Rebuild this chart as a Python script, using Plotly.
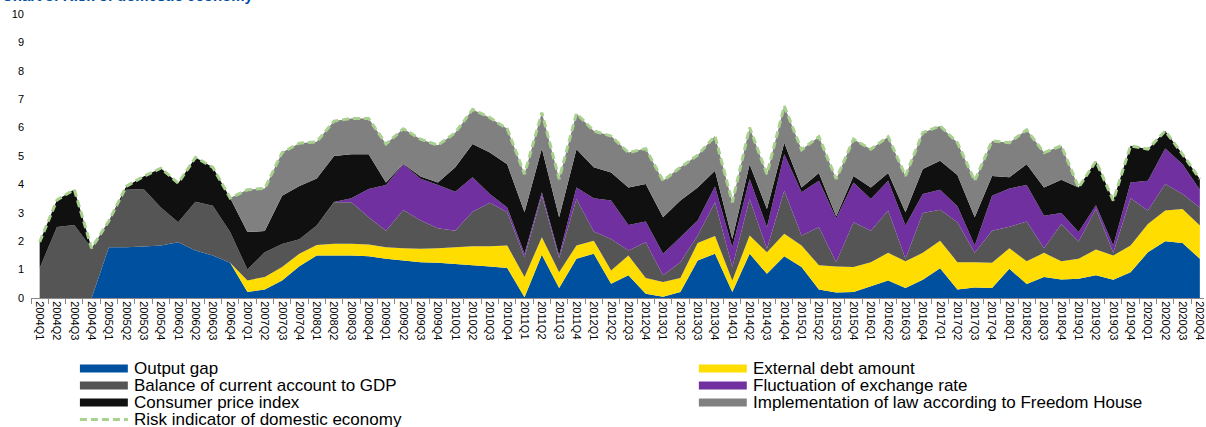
import plotly.graph_objects as go

years = list(range(2004, 2021))
quarters = [f"{y}Q{q}" for y in years for q in range(1, 5)]

output_gap = [0, 0, 0, 0, 1.79, 1.79, 1.81, 1.85, 1.96, 1.67, 1.5, 1.24,
              0.21, 0.3, 0.62, 1.12, 1.5, 1.5, 1.5, 1.47, 1.38, 1.32, 1.26, 1.24,
              1.2, 1.15, 1.11, 1.06, 0.03, 1.52, 0.35, 1.38, 1.56, 0.5, 0.8, 0.15,
              0.04, 0.21, 1.32, 1.56, 0.21, 1.56, 0.85, 1.47, 1.09, 0.3, 0.19, 0.21,
              0.41, 0.62, 0.35, 0.64, 1.05, 0.3, 0.37, 0.35, 1.03, 0.49, 0.74, 0.65,
              0.68, 0.8, 0.64, 0.91, 1.61, 2.0, 1.94, 1.38]
external_debt = [0, 0, 0, 0, 0, 0, 0, 0, 0, 0, 0, 0,
                 0.41, 0.44, 0.47, 0.44, 0.37, 0.41, 0.41, 0.41, 0.41, 0.43, 0.47, 0.51,
                 0.59, 0.67, 0.71, 0.79, 0.71, 0.62, 0.56, 0.47, 0.46, 0.47, 0.7, 0.55,
                 0.52, 0.49, 0.62, 0.62, 0.41, 0.64, 0.76, 0.79, 0.76, 0.85, 0.92, 0.88,
                 0.85, 0.97, 0.94, 0.95, 0.97, 0.96, 0.89, 0.89, 0.72, 0.8, 0.85, 0.64,
                 0.7, 0.91, 0.86, 0.94, 1.0, 1.08, 1.19, 1.17]
current_account = [1.05, 2.5, 2.57, 1.75, 0.93, 2.02, 2.03, 1.34, 0.71, 1.72, 1.75, 1.08,
                   0.38, 0.87, 0.81, 0.51, 0.68, 1.46, 1.46, 0.96, 0.58, 1.35, 1.0, 0.71,
                   0.58, 1.22, 1.53, 1.17, 0.7, 1.46, 0.49, 1.64, 0.32, 1.11, 0.17, 1.26,
                   0.24, 0.56, 0.26, 1.19, 0.47, 1.29, 0.12, 1.52, 0.35, 1.34, 0.15, 1.58,
                   1.11, 1.49, 0.09, 1.4, 1.09, 1.41, 0.33, 1.13, 0.76, 1.4, 0.16, 1.32,
                   0.61, 1.42, 0.09, 1.66, 0.47, 0.93, 0.53, 0.64]
exchange_rate = [0, 0, 0, 0, 0, 0, 0, 0, 0, 0, 0, 0,
                 0, 0, 0, 0, 0, 0.01, 0.14, 1.0, 1.61, 1.61, 1.47, 1.52,
                 1.37, 1.21, 0.31, 0.17, 0.12, 0.12, 0.1, 0.4, 1.17, 1.35, 0.9, 0.73,
                 0.76, 0.88, 0.53, 0.56, 0.7, 0.7, 0.76, 1.28, 1.52, 1.64, 1.54, 1.4,
                 1.12, 1.05, 1.17, 0.67, 0.7, 0.56, 0.26, 1.23, 1.35, 1.29, 1.15, 0.38,
                 0.33, 0.14, 0.26, 0.56, 1.05, 1.25, 1.05, 0.62]
cpi = [0.92, 0.95, 1.25, 0, 0, 0.12, 0.44, 1.38, 1.37, 1.56, 1.35, 1.2,
       1.32, 0.75, 1.7, 1.87, 1.66, 1.62, 1.55, 1.22, 0.09, 0.02, 0.08, 0.09,
       0.86, 1.17, 1.46, 1.52, 1.46, 1.54, 1.34, 1.35, 1.09, 0.99, 1.32, 1.32,
       1.28, 1.29, 1.16, 0.55, 0.29, 0.52, 0.64, 0.41, 0.17, 0.27, 0.08, 0.23,
       0.4, 0.27, 0.47, 0.88, 1.02, 1.1, 0.99, 0.7, 0.39, 0.73, 0.99, 1.17,
       1.57, 1.55, 1.58, 1.29, 1.11, 0.62, 0.35, 0.38]
rule_of_law = [0, 0, 0, 0, 0, 0, 0, 0, 0, 0, 0, 0,
               1.49, 1.5, 1.52, 1.51, 1.29, 1.23, 1.26, 1.26, 1.35, 1.23, 1.31, 1.31,
               1.22, 1.22, 1.23, 1.25, 1.34, 1.27, 1.35, 1.26, 1.28, 1.28, 1.23, 1.25,
               1.29, 1.17, 1.14, 1.22, 1.29, 1.29, 1.23, 1.29, 1.33, 1.28, 1.31, 1.29,
               1.35, 1.28, 1.28, 1.28, 1.23, 1.14, 1.29, 1.23, 1.22, 1.21, 1.23, 1.2,
               0, 0, 0, 0, 0, 0, 0, 0]
risk_indicator = [1.97, 3.45, 3.82, 1.75, 2.72, 3.93, 4.28, 4.57, 4.04, 4.95, 4.6, 3.52,
                  3.81, 3.86, 5.12, 5.45, 5.5, 6.23, 6.32, 6.32, 5.42, 5.96, 5.59, 5.38,
                  5.82, 6.64, 6.35, 5.96, 4.36, 6.53, 4.19, 6.5, 5.88, 5.7, 5.12, 5.26,
                  4.13, 4.6, 5.03, 5.7, 3.37, 6.0, 4.36, 6.76, 5.22, 5.68, 4.19, 5.59,
                  5.24, 5.68, 4.3, 5.82, 6.06, 5.47, 4.13, 5.53, 5.47, 5.92, 5.12, 5.36,
                  3.89, 4.82, 3.43, 5.36, 5.24, 5.88, 5.06, 4.19]

series = [
    ("Output gap", output_gap, "#0050A0"),
    ("External debt amount", external_debt, "#FFDD00"),
    ("Balance of current account to GDP", current_account, "#555555"),
    ("Fluctuation of exchange rate", exchange_rate, "#7030A0"),
    ("Consumer price index", cpi, "#101010"),
    ("Implementation of law according to Freedom House", rule_of_law, "#808080"),
]
risk_name = "Risk indicator of domestic economy"
risk_color = "#A9D18E"

W, H = 1206, 427
ML, MR, MT, MB = 31, 0, 14, 129
PW, PH = W - ML - MR, H - MT - MB

fig = go.Figure()
for name, vals, col in series:
    fig.add_trace(go.Scatter(x=quarters, y=vals, name=name, stackgroup="one",
                             mode="none", fillcolor=col, showlegend=False,
                             hoverinfo="x+y+name"))
fig.add_trace(go.Scatter(x=quarters, y=risk_indicator, name=risk_name, mode="lines",
                         line=dict(color=risk_color, width=3, dash="7px,4px"),
                         showlegend=False))


def px_x(p):
    return (p - ML) / PW


def px_y(p):
    return (H - MB - p) / PH


LEG_FONT = dict(family="Arial, Liberation Sans", size=17, color="#000000")
shapes = []
annotations = []
left_items = [series[0], series[2], series[4]]
right_items = [series[1], series[3], series[5]]
row_y = [368.5, 385.5, 402.5, 419.5]
for col_items, (sx0, sx1, tx) in ((left_items, (80, 128, 132)), (right_items, (700, 748, 752))):
    for k, (name, _, col) in enumerate(col_items):
        cy = row_y[k]
        shapes.append(dict(type="rect", xref="paper", yref="paper",
                           x0=px_x(sx0), x1=px_x(sx1), y0=px_y(cy + 4), y1=px_y(cy - 4),
                           fillcolor=col, line=dict(width=0)))
        annotations.append(dict(xref="paper", yref="paper", x=px_x(tx), y=px_y(cy),
                                xanchor="left", yanchor="middle", text=name, showarrow=False,
                                font=LEG_FONT))
cy = row_y[3]
shapes.append(dict(type="line", xref="paper", yref="paper",
                   x0=px_x(80), x1=px_x(128), y0=px_y(cy), y1=px_y(cy),
                   line=dict(color=risk_color, width=3, dash="7px,4px")))
annotations.append(dict(xref="paper", yref="paper", x=px_x(132), y=px_y(cy),
                        xanchor="left", yanchor="middle", text=risk_name, showarrow=False,
                        font=LEG_FONT))
# title, mostly cut off at top of the picture
annotations.append(dict(xref="paper", yref="paper", x=px_x(0), y=px_y(6),
                        xanchor="left", yanchor="bottom",
                        text="<b>Chart 3: Risk of domestic economy</b>", showarrow=False,
                        font=dict(family="Arial, Liberation Sans", size=15, color="#0050A0")))

fig.update_layout(
    width=W, height=H,
    margin=dict(l=ML, r=MR, t=MT, b=MB, pad=0),
    paper_bgcolor="white", plot_bgcolor="white",
    font=dict(family="Arial, Liberation Sans", size=11, color="#000000"),
    shapes=shapes, annotations=annotations,
    showlegend=False,
)
fig.update_xaxes(type="category", range=[-0.5, 67.24], tickangle=90,
                 tickson="boundaries", ticks="outside", ticklen=5, tickcolor="#888888",
                 showline=True, linecolor="#888888", linewidth=1, showgrid=False,
                 tickfont=dict(size=11), zeroline=False)
fig.update_yaxes(range=[0, 10], dtick=1, showgrid=False, zeroline=False, showline=False,
                 ticks="", tickfont=dict(size=11), ticklabelstandoff=6)

fig.write_html("out.html", config={"displayModeBar": False},
               post_script="document.body.style.margin='0px';document.body.style.overflow='hidden';")
